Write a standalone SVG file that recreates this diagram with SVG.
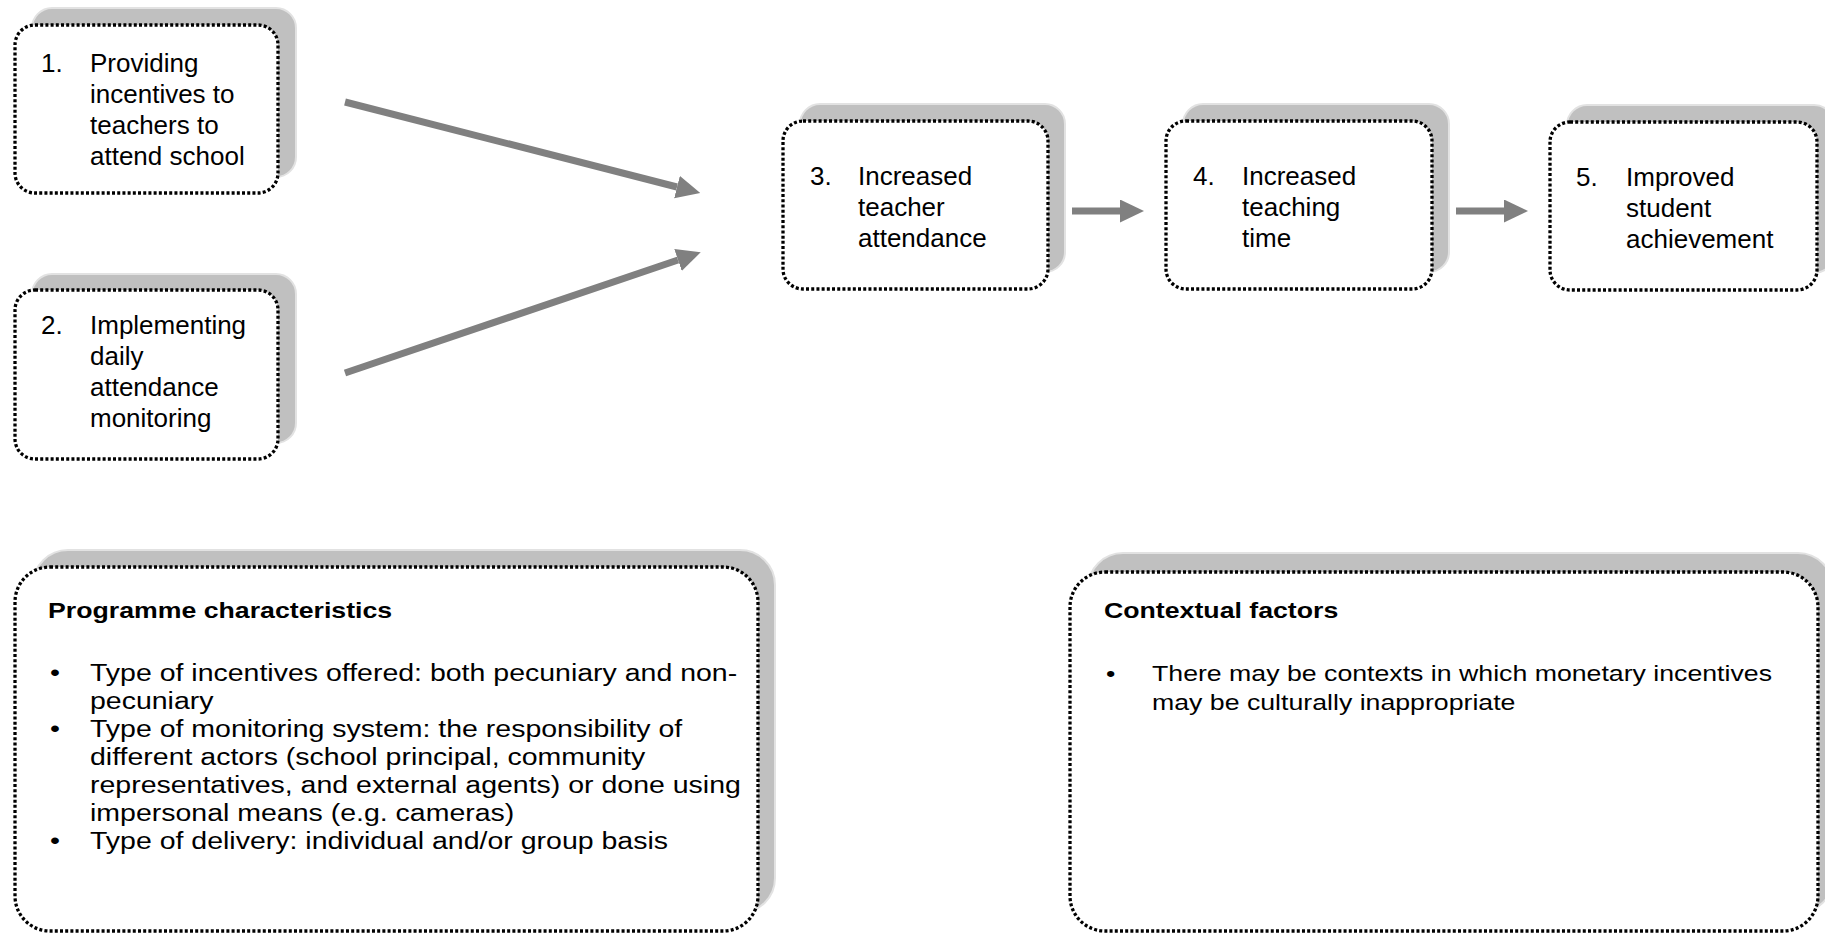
<svg xmlns="http://www.w3.org/2000/svg" width="1825" height="933" viewBox="0 0 1825 933">
<defs>
<style>
.shadow { fill:#c0c0c0; stroke:#e2e2e2; stroke-width:2; }
.box { fill:#ffffff; stroke:#000000; stroke-width:3.3; stroke-dasharray:3 2.2; }
.t { font-family:"Liberation Sans", Arial, sans-serif; font-size:26px; fill:#000000; }
.b { font-family:"Liberation Sans", Arial, sans-serif; font-size:28.5px; fill:#000000; }
.c { font-family:"Liberation Sans", Arial, sans-serif; font-size:26.7px; fill:#000000; }
.h { font-family:"Liberation Sans", Arial, sans-serif; font-size:26.7px; font-weight:bold; fill:#000000; }
.conn { stroke:#808080; stroke-width:7; fill:none; }
</style>
<marker id="head" markerUnits="userSpaceOnUse" markerWidth="24" markerHeight="24" refX="0" refY="11.5" orient="auto">
<path d="M0,0 L24,11.5 L0,23 Z" fill="#808080"/>
</marker>
</defs>
<rect width="1825" height="933" fill="#ffffff"/>

<g id="connectors">
<line class="conn" x1="345" y1="102" x2="677" y2="187" marker-end="url(#head)"/>
<line class="conn" x1="345" y1="373" x2="678" y2="260" marker-end="url(#head)"/>
<line class="conn" x1="1072" y1="211" x2="1120" y2="211" marker-end="url(#head)"/>
<line class="conn" x1="1456" y1="211" x2="1504" y2="211" marker-end="url(#head)"/>
</g>

<g id="node1">
<rect class="shadow" x="32" y="8" width="264" height="169" rx="20"/>
<rect class="box" x="15" y="25" width="263" height="168" rx="20"/>
<text class="t" x="41" y="72">1.</text>
<text class="t" x="90" y="72">Providing</text>
<text class="t" x="90" y="103">incentives to</text>
<text class="t" x="90" y="134">teachers to</text>
<text class="t" x="90" y="165">attend school</text>
</g>

<g id="node2">
<rect class="shadow" x="32" y="274" width="264" height="169" rx="20"/>
<rect class="box" x="15" y="290" width="263" height="169" rx="20"/>
<text class="t" x="41" y="334">2.</text>
<text class="t" x="90" y="334">Implementing</text>
<text class="t" x="90" y="365">daily</text>
<text class="t" x="90" y="396">attendance</text>
<text class="t" x="90" y="427">monitoring</text>
</g>

<g id="node3">
<rect class="shadow" x="800" y="104" width="265" height="168" rx="20"/>
<rect class="box" x="783" y="121" width="265" height="168" rx="20"/>
<text class="t" x="810" y="185">3.</text>
<text class="t" x="858" y="185">Increased</text>
<text class="t" x="858" y="216">teacher</text>
<text class="t" x="858" y="247">attendance</text>
</g>

<g id="node4">
<rect class="shadow" x="1183" y="104" width="266" height="168" rx="20"/>
<rect class="box" x="1166" y="121" width="266" height="168" rx="20"/>
<text class="t" x="1193" y="185">4.</text>
<text class="t" x="1242" y="185">Increased</text>
<text class="t" x="1242" y="216">teaching</text>
<text class="t" x="1242" y="247">time</text>
</g>

<g id="node5">
<rect class="shadow" x="1567" y="105" width="267" height="168" rx="20"/>
<rect class="box" x="1550" y="122" width="267" height="168" rx="20"/>
<text class="t" x="1576" y="186">5.</text>
<text class="t" x="1626" y="186">Improved</text>
<text class="t" x="1626" y="217">student</text>
<text class="t" x="1626" y="248">achievement</text>
</g>

<g id="programme">
<rect class="shadow" x="33" y="550" width="742" height="363" rx="35"/>
<rect class="box" x="15" y="567" width="743" height="364" rx="35"/>
<g transform="matrix(1 0 0 0.85 0 0)">
<text class="h" x="48" y="727.1">Programme characteristics</text>
<text class="b" x="50" y="801.2">•</text>
<text class="b" x="90" y="801.2">Type of incentives offered: both pecuniary and non-</text>
<text class="b" x="90" y="834.1">pecuniary</text>
<text class="b" x="50" y="867.1">•</text>
<text class="b" x="90" y="867.1">Type of monitoring system: the responsibility of</text>
<text class="b" x="90" y="900">different actors (school principal, community</text>
<text class="b" x="90" y="932.9">representatives, and external agents) or done using</text>
<text class="b" x="90" y="965.9">impersonal means (e.g. cameras)</text>
<text class="b" x="50" y="998.8">•</text>
<text class="b" x="90" y="998.8">Type of delivery: individual and/or group basis</text>
</g>
</g>

<g id="contextual">
<rect class="shadow" x="1088" y="553" width="745" height="360" rx="35"/>
<rect class="box" x="1070" y="572" width="748" height="359" rx="35"/>
<g transform="matrix(1 0 0 0.85 0 0)">
<text class="h" x="1104" y="727.1">Contextual factors</text>
<text class="c" x="1106" y="801.2">•</text>
<text class="c" x="1152" y="801.2">There may be contexts in which monetary incentives</text>
<text class="c" x="1152" y="835.3">may be culturally inappropriate</text>
</g>
</g>
</svg>
